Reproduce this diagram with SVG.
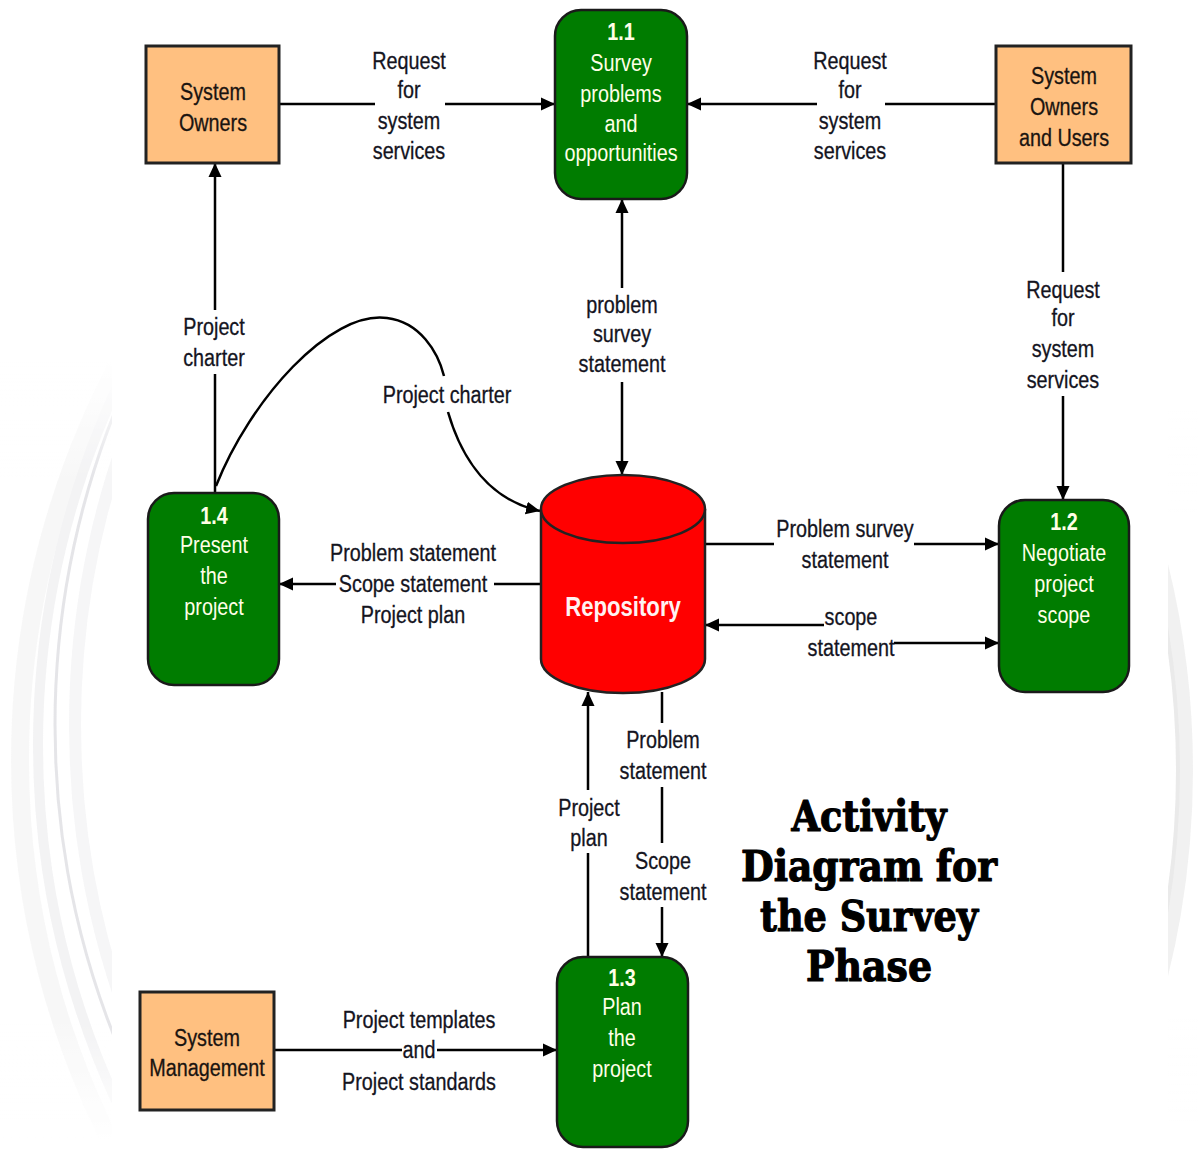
<svg xmlns="http://www.w3.org/2000/svg" width="1198" height="1158" viewBox="0 0 1198 1158">
  <defs>
    <marker id="arrow" markerUnits="userSpaceOnUse" markerWidth="15" markerHeight="15" refX="14" refY="7.5" orient="auto-start-reverse">
      <path d="M0,1 L14,7.5 L0,14 z" fill="#000"/>
    </marker>
    <clipPath id="clipLeft"><rect x="0" y="360" width="112" height="780"/></clipPath>
    <clipPath id="clipRight"><rect x="1168" y="405" width="30" height="720"/></clipPath>
    <linearGradient id="fadeV" x1="0" y1="0" x2="0" y2="1">
      <stop offset="0" stop-color="#fff" stop-opacity="1"/>
      <stop offset="0.15" stop-color="#fff" stop-opacity="0.2"/>
      <stop offset="0.85" stop-color="#fff" stop-opacity="0.2"/>
      <stop offset="1" stop-color="#fff" stop-opacity="1"/>
    </linearGradient>
  </defs>
  <style>
    .ext { fill: #FFC080; stroke: #222; stroke-width: 3; }
    .proc { fill: #007C00; stroke: #1a1a1a; stroke-width: 2.5; }
    .store { fill: #FF0000; stroke: #222; stroke-width: 2.5; }
    .flow { fill: none; stroke: #000; stroke-width: 2.5; }
    .flow.head { marker-end: url(#arrow); }
    .lbl, .ptxt, .etxt {
      font-family: "Liberation Sans", Arial, sans-serif; font-size: 23px; text-anchor: middle;
      transform-box: fill-box; transform-origin: center; transform: scaleX(0.86);
    }
    .lbl { fill: #14141e; stroke: #14141e; stroke-width: 0.3; }
    .etxt { fill: #1a1410; stroke: #1a1410; stroke-width: 0.3; }
    .ptxt { fill: #FFFFE6; }
    .num { font-weight: bold; }
    .repo { font-family: "Liberation Sans", Arial, sans-serif; font-size: 27px; font-weight: bold; fill: #FFF2F2; text-anchor: middle;
      transform-box: fill-box; transform-origin: center; transform: scaleX(0.82); }
    .title { font-family: "DejaVu Serif", "Liberation Serif", serif; font-size: 42px; font-weight: bold; fill: #000;
      stroke: #000; stroke-width: 1.2; stroke-linejoin: round; text-anchor: middle; }
  </style>

  <rect width="1198" height="1158" fill="#fff"/>

  <!-- faint background arcs at the sides -->
  <g id="backdrop" opacity="0.75">
    <g clip-path="url(#clipLeft)">
      <circle cx="870" cy="760" r="850" fill="none" stroke="#f3f3f3" stroke-width="18"/>
      <circle cx="888" cy="745" r="850" fill="none" stroke="#ebebed" stroke-width="10"/>
      <circle cx="905" cy="725" r="850" fill="none" stroke="#d4d4da" stroke-width="3"/>
      <circle cx="925" cy="725" r="850" fill="none" stroke="#f0f0f2" stroke-width="12"/>
      <rect x="0" y="360" width="112" height="780" fill="url(#fadeV)"/>
    </g>
    <g clip-path="url(#clipRight)">
      <circle cx="335" cy="770" r="850" fill="none" stroke="#e8e8e8" stroke-width="16"/>
      <circle cx="328" cy="770" r="850" fill="none" stroke="#dcdcdc" stroke-width="4"/>
      <rect x="1168" y="405" width="30" height="720" fill="url(#fadeV)"/>
    </g>
  </g>

  <!-- data flows -->
  <g id="connectors">
    <path class="flow head" d="M279,104 H375 M445,104 H555"/>
    <path class="flow head" d="M996,104 H885 M817,104 H687"/>
    <path class="flow head" d="M1063,163 V272 M1063,396 V500"/>
    <path class="flow head" d="M622,475 V382 M622,288 V199" style="marker-start: url(#arrow);"/>
    <path class="flow head" d="M215,493 V374 M215,310 V163"/>
    <path class="flow head" d="M216,486 C250,400 330,310 387,318 C420,322 438,352 444,376 M448,412 C462,460 490,500 540,511"/>
    <path class="flow head" d="M540,584 H494 M336,584 H279"/>
    <path class="flow head" d="M705,544 H774 M914,544 H999"/>
    <path class="flow head" d="M824,625 H705"/>
    <path class="flow head" d="M894,643 H999"/>
    <path class="flow head" d="M588,957 V853 M588,790 V692"/>
    <path class="flow head" d="M662,692 V723 M662,787 V843 M662,907 V957"/>
    <path class="flow head" d="M274,1050 H402 M437,1050 H557"/>
  </g>

  <!-- flow labels -->
  <g id="labels">
    <text class="lbl" x="409" y="69">Request</text>
    <text class="lbl" x="409" y="98">for</text>
    <text class="lbl" x="409" y="129">system</text>
    <text class="lbl" x="409" y="159">services</text>

    <text class="lbl" x="850" y="69">Request</text>
    <text class="lbl" x="850" y="98">for</text>
    <text class="lbl" x="850" y="129">system</text>
    <text class="lbl" x="850" y="159">services</text>

    <text class="lbl" x="1063" y="298">Request</text>
    <text class="lbl" x="1063" y="326">for</text>
    <text class="lbl" x="1063" y="357">system</text>
    <text class="lbl" x="1063" y="388">services</text>

    <text class="lbl" x="622" y="313">problem</text>
    <text class="lbl" x="622" y="342">survey</text>
    <text class="lbl" x="622" y="372">statement</text>

    <text class="lbl" x="214" y="335">Project</text>
    <text class="lbl" x="214" y="366">charter</text>

    <text class="lbl" x="447" y="403">Project charter</text>

    <text class="lbl" x="413" y="561">Problem statement</text>
    <text class="lbl" x="413" y="592">Scope statement</text>
    <text class="lbl" x="413" y="623">Project plan</text>

    <text class="lbl" x="845" y="537">Problem survey</text>
    <text class="lbl" x="845" y="568">statement</text>

    <text class="lbl" x="851" y="625">scope</text>
    <text class="lbl" x="851" y="656">statement</text>

    <text class="lbl" x="663" y="748">Problem</text>
    <text class="lbl" x="663" y="779">statement</text>
    <text class="lbl" x="663" y="869">Scope</text>
    <text class="lbl" x="663" y="900">statement</text>

    <text class="lbl" x="589" y="816">Project</text>
    <text class="lbl" x="589" y="846">plan</text>

    <text class="lbl" x="419" y="1028">Project templates</text>
    <text class="lbl" x="419" y="1058">and</text>
    <text class="lbl" x="419" y="1090">Project standards</text>
  </g>

  <!-- external entities -->
  <g id="system-owners">
    <rect class="ext" x="146" y="46" width="133" height="117"/>
    <text class="etxt" x="213" y="100">System</text>
    <text class="etxt" x="213" y="131">Owners</text>
  </g>
  <g id="system-owners-users">
    <rect class="ext" x="996" y="46" width="135" height="117"/>
    <text class="etxt" x="1064" y="84">System</text>
    <text class="etxt" x="1064" y="115">Owners</text>
    <text class="etxt" x="1064" y="146">and Users</text>
  </g>
  <g id="system-management">
    <rect class="ext" x="140" y="992" width="134" height="118"/>
    <text class="etxt" x="207" y="1046">System</text>
    <text class="etxt" x="207" y="1076">Management</text>
  </g>

  <!-- processes -->
  <g id="p1-1">
    <rect class="proc" x="555" y="10" width="132" height="189" rx="26"/>
    <text class="ptxt num" x="621" y="40">1.1</text>
    <text class="ptxt" x="621" y="71">Survey</text>
    <text class="ptxt" x="621" y="102">problems</text>
    <text class="ptxt" x="621" y="132">and</text>
    <text class="ptxt" x="621" y="161">opportunities</text>
  </g>
  <g id="p1-2">
    <rect class="proc" x="999" y="500" width="130" height="192" rx="26"/>
    <text class="ptxt num" x="1064" y="530">1.2</text>
    <text class="ptxt" x="1064" y="561">Negotiate</text>
    <text class="ptxt" x="1064" y="592">project</text>
    <text class="ptxt" x="1064" y="623">scope</text>
  </g>
  <g id="p1-3">
    <rect class="proc" x="557" y="957" width="131" height="190" rx="26"/>
    <text class="ptxt num" x="622" y="986">1.3</text>
    <text class="ptxt" x="622" y="1015">Plan</text>
    <text class="ptxt" x="622" y="1046">the</text>
    <text class="ptxt" x="622" y="1077">project</text>
  </g>
  <g id="p1-4">
    <rect class="proc" x="148" y="493" width="131" height="192" rx="26"/>
    <text class="ptxt num" x="214" y="524">1.4</text>
    <text class="ptxt" x="214" y="553">Present</text>
    <text class="ptxt" x="214" y="584">the</text>
    <text class="ptxt" x="214" y="615">project</text>
  </g>

  <!-- data store -->
  <g id="repository">
    <path class="store" d="M541,509 A82,34 0 0 1 705,509 V659 A82,34 0 0 1 541,659 Z"/>
    <path class="store" fill="none" d="M541,509 A82,34 0 0 0 705,509"/>
    <text class="repo" x="623" y="616">Repository</text>
  </g>

  <!-- caption -->
  <g id="title">
    <text class="title" x="869" y="831" textLength="155" lengthAdjust="spacingAndGlyphs">Activity</text>
    <text class="title" x="869" y="881" textLength="256" lengthAdjust="spacingAndGlyphs">Diagram for</text>
    <text class="title" x="869" y="931" textLength="218" lengthAdjust="spacingAndGlyphs">the Survey</text>
    <text class="title" x="869" y="981" textLength="126" lengthAdjust="spacingAndGlyphs">Phase</text>
  </g>
</svg>
